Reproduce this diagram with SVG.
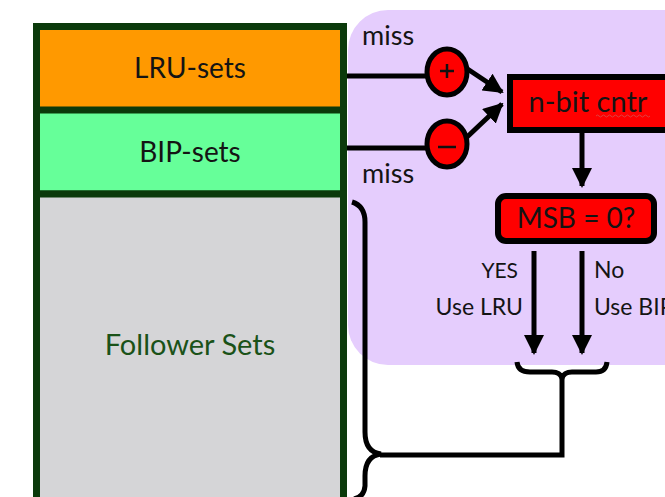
<svg xmlns="http://www.w3.org/2000/svg" width="665" height="497" viewBox="0 0 665 497">
<defs>
<style>
.t{font-family:Lato,"Open Sans","DejaVu Sans",sans-serif;fill:#141414}
.ln{fill:none;stroke:#000;stroke-width:5}
.cell{stroke:#0b3a0b;stroke-width:7}
</style>
<marker id="ah" viewBox="0 0 10 10" refX="9" refY="5" markerWidth="4" markerHeight="4" orient="auto" markerUnits="strokeWidth">
<path d="M0,0 L10,5 L0,10 z" fill="#000"/>
</marker>
</defs>
<rect width="665" height="497" fill="#fff"/>
<rect id="panel" x="348" y="10" width="360" height="355" rx="40" fill="#e5cdfd"/>

<g id="sets">
<rect x="36.500" y="26.500" width="307" height="84" fill="#ff9900" class="cell"/>
<rect x="36.500" y="110" width="307" height="84" fill="#66ff99" class="cell"/>
<rect x="36.500" y="194" width="307" height="320" fill="#d5d5d7" class="cell"/>
</g>
<g id="lru"><text class="t" x="190" y="78" font-size="28" text-anchor="middle">LRU-sets</text></g>
<g id="bip"><text class="t" x="190" y="162" font-size="28" text-anchor="middle">BIP-sets</text></g>
<g id="follower"><text x="190" y="355" font-size="29" text-anchor="middle" style="font-family:Lato,'Open Sans',sans-serif;fill:#1a5218">Follower Sets</text></g>

<g id="connectors">
<line class="ln" x1="347" y1="76" x2="428" y2="76"/>
<line class="ln" x1="347" y1="148" x2="428" y2="148"/>
<line class="ln" x1="466" y1="68" x2="502" y2="92" marker-end="url(#ah)"/>
<line class="ln" x1="466" y1="138" x2="502" y2="104" marker-end="url(#ah)"/>
<line class="ln" x1="582" y1="133" x2="582" y2="186" marker-end="url(#ah)"/>
<line class="ln" x1="534" y1="251" x2="534" y2="353" marker-end="url(#ah)"/>
<line class="ln" x1="582" y1="251" x2="582" y2="353" marker-end="url(#ah)"/>
<path class="ln" d="M517,362 Q518,372 530,372 L552,372 Q560,372 562,378 Q564,372 572,372 L596,372 Q606,372 607,362"/>
<path class="ln" d="M562,376 L562,455 L380,455"/>
<path class="ln" d="M352,202 Q365,206 365,222 L365,432 Q365,452 381,454 Q365,456 365,476 L365,486 Q364,497 354,499"/>
</g>

<g id="plus">
<ellipse cx="447" cy="72" rx="20" ry="23" fill="#ff0000" stroke="#000" stroke-width="5"/>
<line x1="440" y1="71" x2="454" y2="71" stroke="#111" stroke-width="2.500"/>
<line x1="447" y1="64" x2="447" y2="78" stroke="#111" stroke-width="2.500"/>
</g>
<g id="minus">
<ellipse cx="447" cy="144" rx="20" ry="23" fill="#ff0000" stroke="#000" stroke-width="5"/>
<line x1="438" y1="147" x2="456" y2="147" stroke="#111" stroke-width="2.500"/>
</g>
<g id="miss1"><text class="t" x="362" y="45" font-size="27">miss</text></g>
<g id="miss2"><text class="t" x="362" y="183" font-size="27">miss</text></g>

<g id="cntr">
<rect x="510" y="77" width="170" height="53" fill="#ff0000" stroke="#000" stroke-width="6"/>
<text class="t" x="588" y="112" font-size="29" text-anchor="middle">n-bit cntr</text>
<path d="M596,116 q1.500,-2 3,0 t3,0 t3,0 t3,0 t3,0 t3,0 t3,0 t3,0 t3,0 t3,0 t3,0 t3,0 t3,0 t3,0 t3,0 t3,0 t3,0 t3,0" fill="none" stroke="#e04040" stroke-width="1"/>
</g>

<g id="msb">
<rect x="498" y="196" width="156" height="45" rx="8" fill="#ff0000" stroke="#000" stroke-width="6"/>
<text class="t" x="576" y="228" font-size="28" text-anchor="middle">MSB = 0?</text>
</g>

<g id="labels">
<text class="t" x="518" y="278" font-size="21" text-anchor="end">YES</text>
<text class="t" x="523" y="315" font-size="23" text-anchor="end">Use LRU</text>
<text class="t" x="594" y="278" font-size="23">No</text>
<text class="t" x="594" y="315" font-size="23">Use BIP</text>
</g>
</svg>
